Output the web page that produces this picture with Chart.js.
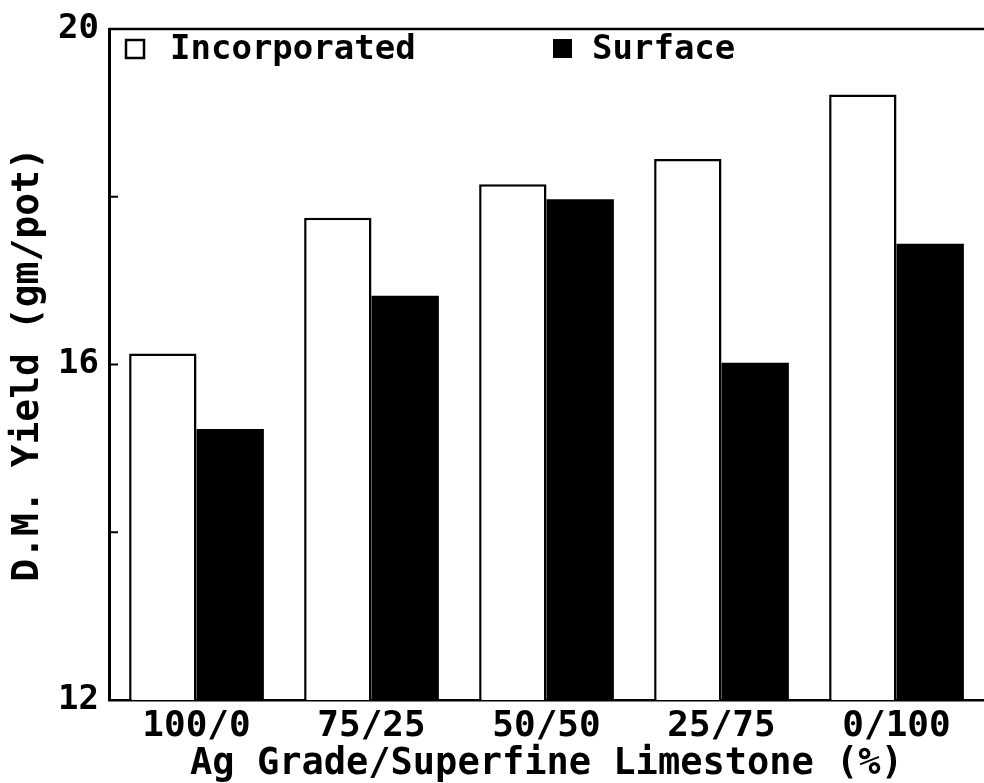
<!DOCTYPE html>
<html><head><meta charset="utf-8">
<script src="https://cdn.jsdelivr.net/npm/chart.js@4/dist/chart.umd.min.js"></script>
<style>html,body{margin:0;padding:0;background:#fff}#wrap{width:984px;height:783px}</style>
</head><body><div id="wrap"><canvas id="c" width="984" height="783"></canvas></div>
<script>
const categories = ['100/0', '75/25', '50/50', '25/75', '0/100'];
const incorporated = [16.13, 17.75, 18.15, 18.45, 19.22];
const surface = [15.23, 16.82, 17.97, 16.02, 17.44];
const seriesNames = ['Incorporated', 'Surface'];
const yTickLabels = [12, 16, 20];
const yMinorTicks = [14, 16, 18];
const xTitle = 'Ag Grade/Superfine Limestone (%)';
const yTitle = 'D.M. Yield (gm/pot)';

const FONT = '"DejaVu Sans Mono", "Liberation Mono", monospace';

const framePlugin = {
  id: 'frame',
  afterDraw(chart) {
    const ctx = chart.ctx;
    const a = chart.chartArea;
    const y = chart.scales.y;
    ctx.save();
    ctx.strokeStyle = '#000';
    ctx.lineWidth = 2.5;
    ctx.beginPath();
    ctx.moveTo(a.left, a.top);
    ctx.lineTo(a.right, a.top);
    ctx.stroke();
    ctx.lineWidth = 2;
    yMinorTicks.forEach(v => {
      const py = y.getPixelForValue(v);
      ctx.beginPath();
      ctx.moveTo(a.left, py);
      ctx.lineTo(a.left + 9, py);
      ctx.stroke();
    });
    const ds = chart.data.datasets;
    ctx.font = 'bold 34px ' + FONT;
    ctx.textBaseline = 'middle';
    ctx.fillStyle = '#000';
    ctx.lineWidth = 2.5;
    ctx.strokeRect(126, 40, 18, 18);
    ctx.fillText(ds[0].label, 170, 50);
    ctx.fillRect(553, 39, 19, 19);
    ctx.fillText(ds[1].label, 592, 50);
    ctx.restore();
  }
};

new Chart(document.getElementById('c'), {
  type: 'bar',
  data: {
    labels: categories,
    datasets: [
      { label: seriesNames[0], data: incorporated, backgroundColor: '#fff', borderColor: '#000', borderWidth: 2.5, borderSkipped: false },
      { label: seriesNames[1], data: surface, backgroundColor: '#000', borderColor: '#000', borderWidth: 0 }
    ]
  },
  options: {
    responsive: false,
    animation: false,
    devicePixelRatio: 1,
    layout: { padding: { top: 29, right: 0, left: 0, bottom: 0 } },
    plugins: { legend: { display: false }, tooltip: { enabled: false } },
    datasets: { bar: { categoryPercentage: 0.77, barPercentage: 1.0 } },
    scales: {
      x: {
        grid: { display: false, drawTicks: false },
        border: { display: true, color: '#000', width: 2.5 },
        ticks: { color: '#000', padding: 9, font: { family: FONT, size: 36, weight: 'bold', lineHeight: 1 }, maxRotation: 0 },
        title: { display: true, text: xTitle, color: '#000', padding: { top: 0, bottom: 0 }, font: { family: FONT, size: 37, weight: 'bold', lineHeight: 1 } },
        afterFit(s) { s.height = 83; }
      },
      y: {
        min: 12, max: 20,
        grid: { display: false, drawTicks: false },
        border: { display: true, color: '#000', width: 3 },
        ticks: {
          stepSize: 2, autoSkip: false, color: '#000', padding: 10,
          font: { family: FONT, size: 34, weight: 'bold', lineHeight: 1 },
          callback: v => yTickLabels.includes(v) ? String(v) : ''
        },
        title: { display: true, text: yTitle, color: '#000', padding: { top: 9, bottom: 0 }, font: { family: FONT, size: 38, weight: 'bold', lineHeight: 1 } },
        afterFit(s) { s.width = 109; }
      }
    }
  },
  plugins: [framePlugin]
});
</script>
</body></html>
